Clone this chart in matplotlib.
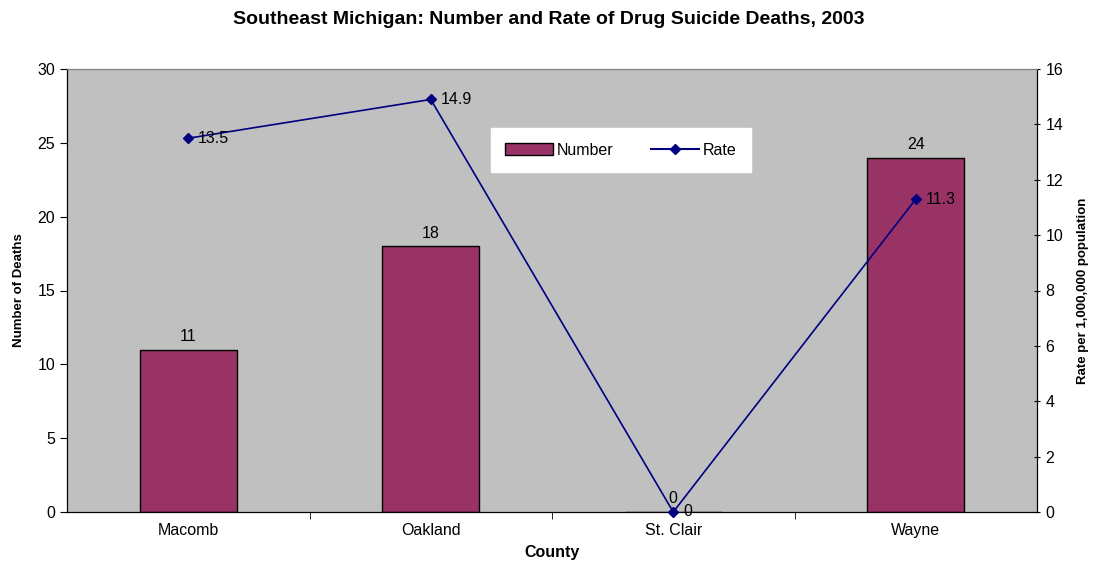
import matplotlib
matplotlib.use("Agg")
import matplotlib.pyplot as plt
from matplotlib.lines import Line2D
from matplotlib.patches import Patch

plt.rcParams['font.family'] = ['Liberation Sans', 'DejaVu Sans']

counties = ["Macomb", "Oakland", "St. Clair", "Wayne"]
numbers = [11, 18, 0, 24]
rates = [13.5, 14.9, 0, 11.3]

fig = plt.figure(figsize=(10.98, 5.66), dpi=100)
ax = fig.add_axes([67/1098, 54/566, 970/1098, 443/566])
ax.set_facecolor("#C0C0C0")

x = list(range(len(counties)))
ax.bar(x, numbers, width=0.4, color="#993366", edgecolor="black", linewidth=1, zorder=2)
ax.set_xlim(-0.5, 3.5)
ax.set_ylim(0, 30)
ax.set_yticks(range(0, 31, 5))
ax.set_xticks(x)
ax.set_xticklabels(counties, fontsize=11.5)
ax.tick_params(axis='x', length=0, pad=8)
ax.set_xticks([0.5, 1.5, 2.5], minor=True)
ax.tick_params(axis='x', which='minor', length=5, direction='out')
ax.tick_params(axis='y', labelsize=11.5, length=5, direction='out')
for xi, n in zip(x, numbers):
    ax.annotate(str(n), (xi, n), xytext=(0, 4), textcoords="offset points",
                ha="center", va="bottom", fontsize=11.5)
ax.set_ylabel("Number of Deaths", fontsize=9.5, fontweight="bold", labelpad=9)
ax.set_xlabel("County", fontsize=11.5, fontweight="bold", labelpad=5)
ax.spines['top'].set_color("#808080")

ax2 = ax.twinx()
ax2.plot(x, rates, color="#000080", marker="D", markersize=5, linewidth=1.2, zorder=3, clip_on=False)
ax2.set_ylim(0, 16)
ax2.set_yticks(range(0, 17, 2))
ax2.tick_params(axis='y', labelsize=11.5, length=5, direction='inout')
for xi, r in zip(x, rates):
    lbl = "0" if r == 0 else f"{r}"
    ax2.annotate(lbl, (xi, r), xytext=(7, 0), textcoords="offset points",
                 ha="left", va="center", fontsize=11.5)
ax2.set_ylabel("Rate per 1,000,000 population", fontsize=9.5, fontweight="bold", labelpad=10)
ax2.spines['top'].set_color("#808080")

handles = [Patch(facecolor="#993366", edgecolor="black", label="Number"),
           Line2D([0], [0], color="#000080", marker="D", markersize=5, label="Rate")]
leg = ax2.legend(handles=handles, loc="center", bbox_to_anchor=(0.571, 0.817),
                 ncol=2, frameon=True, fancybox=False, fontsize=11.5,
                 columnspacing=2.4, handlelength=3.0, borderpad=0.9, handletextpad=0.2)
leg.get_frame().set_facecolor("white")
leg.get_frame().set_edgecolor("white")
leg.get_frame().set_alpha(1)
leg.set_zorder(5)

fig.suptitle("Southeast Michigan: Number and Rate of Drug Suicide Deaths, 2003",
             x=0.5, y=0.98, fontsize=14, fontweight="bold")

fig.savefig("out.png", dpi=100)
